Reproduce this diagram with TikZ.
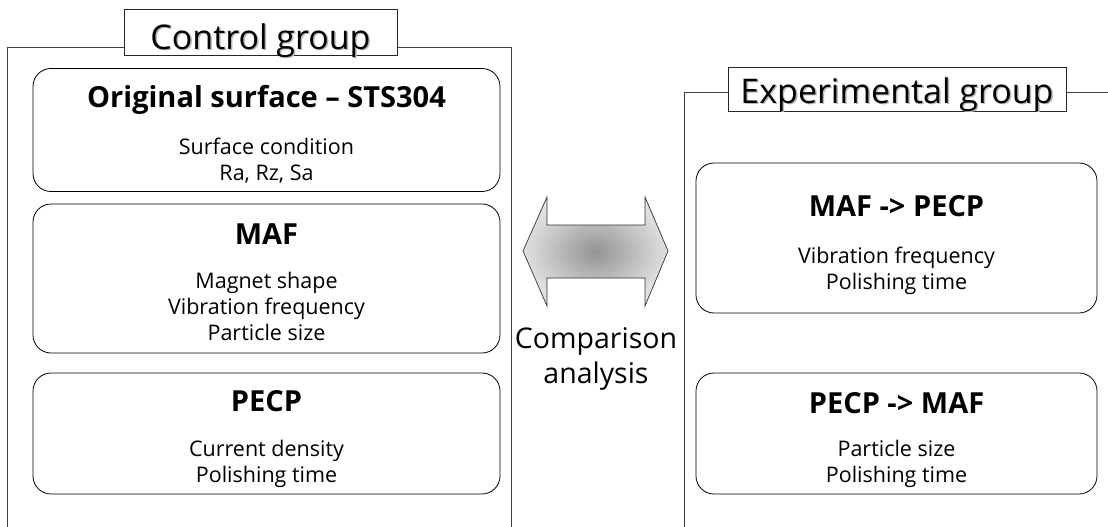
\documentclass[tikz,border=0pt]{standalone}
\usepackage{fontspec}
\setmainfont{Open Sans}
\usetikzlibrary{shapes.geometric}
\tikzset{
  grpline/.style={draw=black!75, line width=0.8pt},
  grptitle/.style={draw=black!85, fill=white, line width=0.8pt, inner sep=0pt,
    text depth=0pt, font=\fontsize{34}{38}\selectfont},
  itembox/.style={draw=black, rounded corners=18pt, line width=0.8pt, align=center,
    inner sep=0pt, font=\fontsize{21.5}{26}\selectfont},
  dblarrow/.style={draw=black!80, line width=0.7pt, inner color=black!42, outer color=black!12},
  cmptext/.style={align=center, font=\fontsize{28.5}{35}\selectfont},
}
% #1: strut height that sets the vertical place of the text block, #2: title
\newcommand{\itemtitle}[2]{{\bfseries\fontsize{29}{30}\selectfont\rule{0pt}{#1pt}#2}}
\newcommand{\shadowtext}[1]{\rlap{\hspace{1.5pt}\raisebox{-1.5pt}{\color{black!28}#1}}#1}
\begin{document}
\begin{tikzpicture}[x=1pt,y=-1pt]
\useasboundingbox (0,0) rectangle (1108,527);
% left group frame
\coordinate (lbl) at (7,530);
\coordinate (ltl) at (7,47);
\coordinate (ltr) at (511,47);
\coordinate (lbr) at (511,530);
\draw[grpline] (lbl) -- (ltl) -- (ltr) -- (lbr);
\node[grptitle, minimum width=273pt, minimum height=46pt, text height=35pt] (ctitle) at (260.5,32) {\shadowtext{Control group}};
% right group frame
\coordinate (rbl) at (684,530);
\coordinate (rtl) at (684,92);
\coordinate (rtr) at (1110,92);
\draw[grpline] (rbl) -- (rtl) -- (rtr);
\node[grptitle, minimum width=338pt, minimum height=44pt, text height=28pt] (etitle) at (897,89) {\shadowtext{Experimental group}};
% control boxes
\node[itembox, minimum width=467pt, minimum height=123pt] (orig) at (266.5,130)
  {\itemtitle{30}{Original surface -- STS304}\\[21pt]Surface condition\\Ra, Rz, Sa};
\node[itembox, minimum width=467pt, minimum height=149pt] (maf) at (266.5,278.5)
  {\itemtitle{29}{MAF}\\[18pt]Magnet shape\\Vibration frequency\\Particle size};
\node[itembox, minimum width=467pt, minimum height=121pt] (pecp) at (266.5,433.5)
  {\itemtitle{33}{PECP}\\[19pt]Current density\\Polishing time};
% experimental boxes
\node[itembox, minimum width=401pt, minimum height=150pt] (mafpecp) at (896.5,238)
  {\itemtitle{35}{MAF -> PECP}\\[21pt]Vibration frequency\\Polishing time};
\node[itembox, minimum width=401pt, minimum height=121pt] (pecpmaf) at (896.5,433.5)
  {\itemtitle{35}{PECP -> MAF}\\[17pt]Particle size\\Polishing time};
% comparison arrow
\coordinate (al) at (523,251);
\coordinate (ar) at (668,251);
\shade[dblarrow] (al) -- (547,197) -- (547,225) -- (645,225) -- (645,197) -- (ar)
  -- (645,306) -- (645,278) -- (547,278) -- (547,306) -- cycle;
\node[cmptext] (cmp) at (596,359) {Comparison\\analysis};
\end{tikzpicture}
\end{document}
